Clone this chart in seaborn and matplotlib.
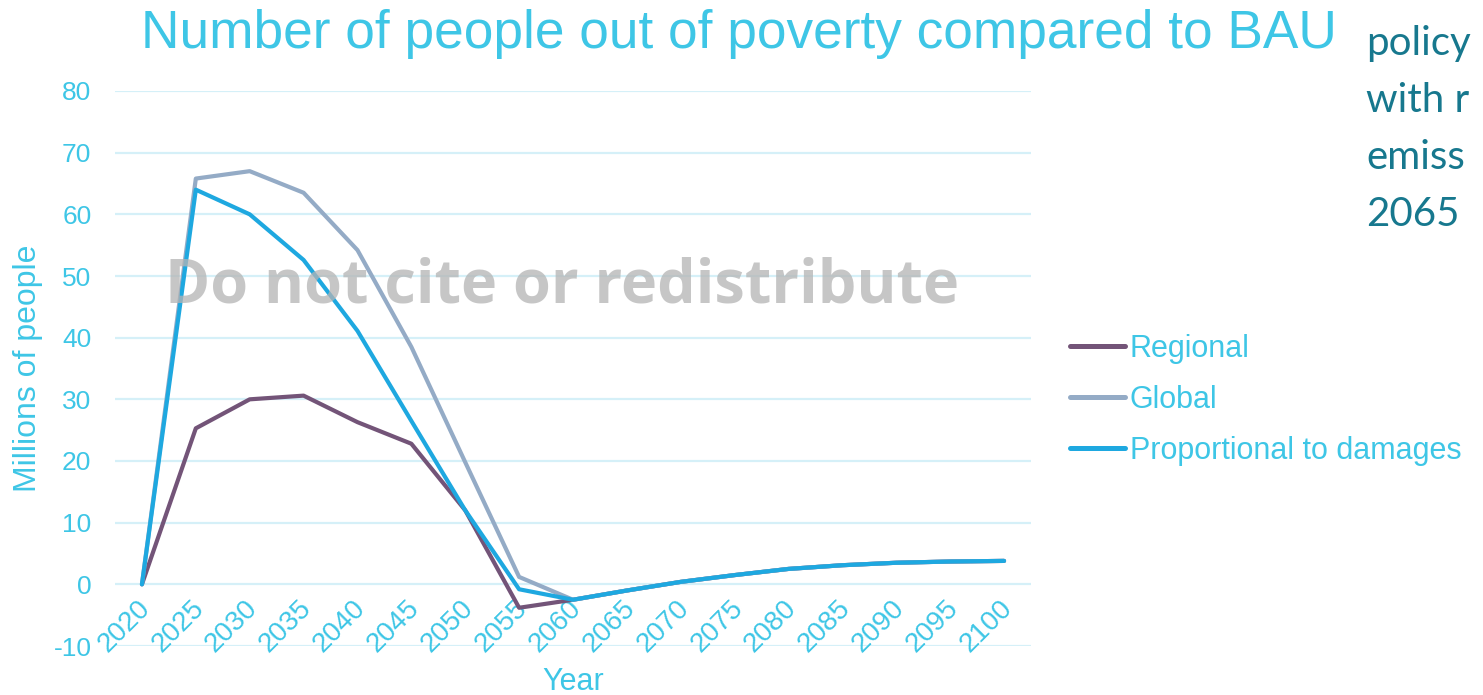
import matplotlib
matplotlib.use("Agg")
import matplotlib.pyplot as plt
import matplotlib.transforms as mtransforms
import seaborn as sns
import pandas as pd
import numpy as np
from matplotlib.lines import Line2D

years = ["2020", "2025", "2030", "2035", "2040", "2045", "2050", "2055", "2060",
         "2065", "2070", "2075", "2080", "2085", "2090", "2095", "2100"]
regional = [0, 25.3, 30.0, 30.6, 26.3, 22.8, 12.0, -3.8, -2.5,
            -1.0, 0.4, 1.5, 2.5, 3.1, 3.5, 3.7, 3.8]
global_ = [0, 65.8, 67.0, 63.5, 54.2, 38.5, 19.8, 1.2, -2.5,
           -1.0, 0.4, 1.5, 2.5, 3.1, 3.5, 3.7, 3.8]
proportional = [0, 64.0, 60.0, 52.6, 41.1, 26.5, 12.0, -0.8, -2.5,
                -1.0, 0.4, 1.5, 2.5, 3.1, 3.5, 3.7, 3.8]
series_names = ["Regional", "Global", "Proportional to damages"]
series_colors = ["#735478", "#94abc6", "#1ea8e0"]
yticks = [-10, 0, 10, 20, 30, 40, 50, 60, 70, 80]

title = "Number of people out of poverty compared to BAU"
side_lines = ["policy", "with r", "emiss", "2065"]
watermark = "Do not cite or redistribute"

sns.set_theme(style="white")
plt.rcParams["font.family"] = ["Liberation Sans", "DejaVu Sans"]

cyan = "#3ec6e6"
grid_c = "#d5f0f8"

df = pd.DataFrame({
    "idx": list(range(len(years))) * 3,
    "value": regional + global_ + proportional,
    "series": sum([[n] * len(years) for n in series_names], []),
})

fig = plt.figure(figsize=(14.83, 6.95), dpi=100)
W, H = 1483, 695
ax = fig.add_axes([115 / W, 1 - 646 / H, 916 / W, (646 - 91) / H])

sns.lineplot(data=df, x="idx", y="value", hue="series", hue_order=series_names,
             palette=series_colors, linewidth=3.0, ax=ax, legend=False,
             sort=False)
for ln in ax.get_lines():
    ln.set_solid_capstyle("round")

ax.set_xlim(-0.5, len(years) - 0.5)
ax.set_ylim(-10, 80)
ax.set_yticks(yticks)
ax.set_yticklabels([str(t) for t in yticks], color=cyan, fontsize=19)
for t in yticks:
    ax.axhline(t, color=grid_c, lw=1.6, zorder=0)
for s in ax.spines.values():
    s.set_visible(False)
ax.spines["bottom"].set_position(("data", 0))
ax.set_xticks(range(len(years)))
ax.set_xticklabels(years, rotation=45, ha="right", rotation_mode="anchor",
                   color=cyan, fontsize=20)
ax.tick_params(axis="both", length=0)
ax.tick_params(axis="x", pad=8)
ax.tick_params(axis="y", pad=17)
ax.set_xlabel("")
ax.set_ylabel("")
offset = mtransforms.ScaledTranslation(-5 / 100, 0, fig.dpi_scale_trans)
for lab in ax.get_xticklabels():
    lab.set_transform(lab.get_transform() + offset)

fig.text(28 / W, 1 - 368 / H, "Millions of people", rotation=90, color=cyan,
         fontsize=23, ha="center", va="center")
fig.text(573 / W, 1 - 682 / H, "Year", color=cyan, fontsize=22,
         ha="center", va="center")

fig.text(739 / W, 1 - 48 / H, title, color=cyan, fontsize=38.3,
         ha="center", va="baseline")

fig.text(562 / W, 1 - 287 / H, watermark, color="#b4b4b4", alpha=0.75,
         fontsize=44, fontweight="bold", family=["Open Sans", "DejaVu Sans"],
         ha="center", va="center", zorder=10)

for i, txt in enumerate(side_lines):
    fig.text(1366 / W, 1 - (55 + i * 57) / H, txt, color="#17788e",
             fontsize=29, family=["Lato", "DejaVu Sans"], ha="left",
             va="baseline")

handles = [Line2D([0], [0], color=c, lw=3.6, solid_capstyle="round")
           for c in series_colors]
leg = fig.legend(handles, series_names, loc="upper left",
                 bbox_to_anchor=(1070 / W, 1 - 334 / H), frameon=False,
                 fontsize=22, handlelength=1.8, handletextpad=0.15,
                 labelspacing=0.68, borderpad=0, borderaxespad=0)
for t in leg.get_texts():
    t.set_color(cyan)

fig.savefig("out.png", dpi=100)
